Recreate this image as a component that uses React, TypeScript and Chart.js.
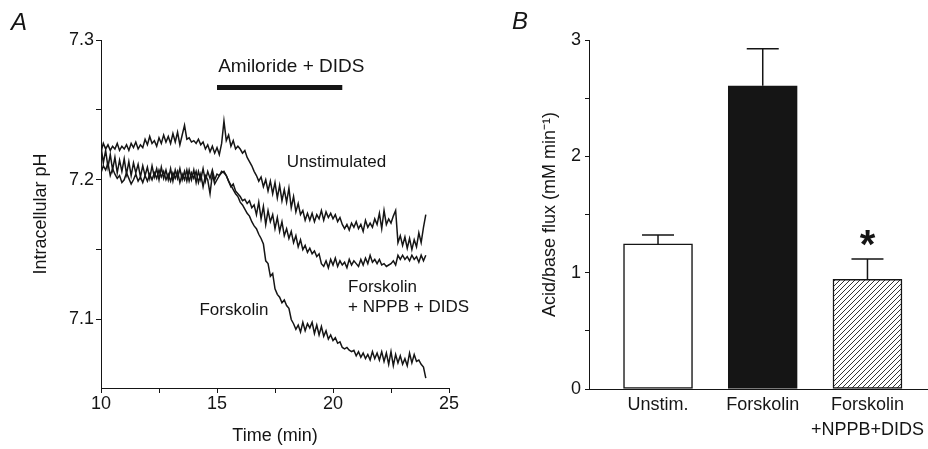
import React, { useEffect, useRef } from "react";
import { Chart, registerables } from "chart.js";

Chart.register(...registerables);

const FONT = "'Liberation Sans', Arial, Helvetica, sans-serif";
const INK = "#151515";

// ---------- Panel A: intracellular pH traces ----------
const TIME_START = 10; // min
const TIME_STEP = 0.1; // min between samples

const PH_UNSTIM = [
  7.220, 7.226, 7.222, 7.225, 7.221, 7.224, 7.222, 7.226, 7.221, 7.224,
  7.222, 7.225, 7.221, 7.226, 7.223, 7.227, 7.222, 7.225, 7.223, 7.229,
  7.225, 7.231, 7.226, 7.228, 7.224, 7.230, 7.226, 7.232, 7.227, 7.231,
  7.226, 7.233, 7.227, 7.234, 7.225, 7.232, 7.239, 7.229, 7.230, 7.227,
  7.228, 7.226, 7.229, 7.225, 7.227, 7.222, 7.225, 7.220, 7.224, 7.219,
  7.223, 7.218, 7.226, 7.242, 7.228, 7.232, 7.224, 7.228, 7.222, 7.224,
  7.222, 7.219, 7.221, 7.216, 7.213, 7.210, 7.206, 7.203, 7.199, 7.202,
  7.195, 7.200, 7.192, 7.199, 7.190, 7.198, 7.187, 7.196, 7.185, 7.193,
  7.184, 7.194, 7.180, 7.188, 7.177, 7.183, 7.175, 7.178, 7.171, 7.176,
  7.171, 7.176, 7.170, 7.175, 7.172, 7.178, 7.171, 7.177, 7.173, 7.176,
  7.172, 7.175, 7.170, 7.173, 7.168, 7.165, 7.168, 7.164, 7.169, 7.166,
  7.170, 7.165, 7.168, 7.163, 7.171, 7.166, 7.169, 7.166, 7.172, 7.168,
  7.176, 7.165, 7.178, 7.168, 7.172, 7.169, 7.174, 7.178, 7.155, 7.160,
  7.153, 7.159, 7.151, 7.158, 7.150, 7.157, 7.152, 7.162, 7.155, 7.166,
  7.175,
];

const PH_FORSK_NPPB_DIDS = [
  7.224, 7.212, 7.221, 7.209, 7.218, 7.207, 7.216, 7.205, 7.214, 7.206,
  7.215, 7.204, 7.213, 7.203, 7.212, 7.205, 7.211, 7.202, 7.210, 7.203,
  7.209, 7.201, 7.210, 7.202, 7.208, 7.200, 7.209, 7.201, 7.207, 7.200,
  7.208, 7.199, 7.207, 7.201, 7.208, 7.200, 7.206, 7.199, 7.207, 7.200,
  7.207, 7.198, 7.206, 7.200, 7.208, 7.199, 7.206, 7.201, 7.207, 7.200,
  7.204, 7.203, 7.206, 7.205, 7.203, 7.199, 7.195, 7.197, 7.192, 7.190,
  7.188, 7.185, 7.186, 7.183, 7.185, 7.180, 7.182, 7.175, 7.184, 7.172,
  7.181, 7.168, 7.178, 7.170, 7.175, 7.165, 7.173, 7.163, 7.170, 7.160,
  7.165, 7.158, 7.163, 7.155, 7.160, 7.152, 7.157, 7.150, 7.153, 7.148,
  7.151, 7.147, 7.149, 7.145, 7.147, 7.140, 7.138, 7.142, 7.137, 7.143,
  7.139, 7.144, 7.138, 7.142, 7.139, 7.141, 7.137, 7.143, 7.139, 7.142,
  7.140, 7.138, 7.143, 7.139, 7.144, 7.140, 7.146, 7.141, 7.143, 7.140,
  7.143, 7.139, 7.140, 7.138, 7.139, 7.140, 7.142, 7.139, 7.146, 7.143,
  7.146, 7.143, 7.145, 7.142, 7.146, 7.143, 7.145, 7.141, 7.146, 7.142,
  7.146,
];

const PH_FORSK = [
  7.205, 7.210, 7.207, 7.212, 7.203, 7.208, 7.204, 7.201, 7.203, 7.198,
  7.200, 7.205, 7.201, 7.197, 7.200, 7.204, 7.199, 7.202, 7.198, 7.203,
  7.199, 7.204, 7.200, 7.205, 7.201, 7.207, 7.202, 7.206, 7.200, 7.204,
  7.199, 7.205, 7.201, 7.206, 7.198, 7.204, 7.200, 7.207, 7.199, 7.205,
  7.201, 7.206, 7.198, 7.204, 7.195, 7.203, 7.200, 7.190, 7.204, 7.197,
  7.200, 7.203, 7.205, 7.206, 7.203, 7.199, 7.196, 7.193, 7.190, 7.188,
  7.184, 7.182, 7.179, 7.176, 7.174, 7.170, 7.167, 7.165, 7.161, 7.158,
  7.154, 7.142, 7.140, 7.131, 7.133, 7.122, 7.118, 7.116, 7.112, 7.114,
  7.110, 7.108, 7.100, 7.097, 7.093, 7.096, 7.091, 7.098, 7.092, 7.097,
  7.094, 7.098, 7.090, 7.096, 7.089, 7.095, 7.088, 7.092, 7.086, 7.089,
  7.085, 7.087, 7.083, 7.084, 7.080, 7.079, 7.080, 7.078, 7.077, 7.078,
  7.074, 7.077, 7.073, 7.076, 7.072, 7.075, 7.071, 7.077, 7.072, 7.076,
  7.071, 7.077, 7.070, 7.076, 7.068, 7.077, 7.067, 7.075, 7.069, 7.074,
  7.068, 7.072, 7.067, 7.076, 7.069, 7.075, 7.070, 7.071, 7.068, 7.066,
  7.058,
];

const A_X_TICKS = [10, 12.5, 15, 17.5, 20, 22.5, 25];
const A_X_LABELED = [10, 15, 20, 25];
const A_Y_TICKS = [7.1, 7.15, 7.2, 7.25, 7.3];
const A_Y_LABELED = [7.1, 7.2, 7.3];
const DRUG_PERIOD = [15, 20.4];
const DRUG_LABEL = "Amiloride + DIDS";

// ---------- Panel B: acid/base flux ----------
const B_CATEGORIES = [["Unstim."], ["Forskolin"], ["Forskolin", "+NPPB+DIDS"]];
const B_FLUX = [1.247, 2.607, 0.943];
const B_SEM = [0.077, 0.318, 0.174];
const B_SIGNIFICANT = [false, false, true];
const B_Y_TICKS = [0, 0.5, 1, 1.5, 2, 2.5, 3];
const B_Y_LABELED = [0, 1, 2, 3];

// text annotations for panel A (in data coordinates)
const A_NOTES = [
  { text: "Unstimulated", t: 20.15, ph: 7.2122, align: "center" },
  { text: "Forskolin", t: 15.73, ph: 7.1068, align: "center" },
  { text: "Forskolin", t: 20.65, ph: 7.1233, align: "left" },
  { text: "+ NPPB + DIDS", t: 20.65, ph: 7.109, align: "left" },
];

const near = (v: number, list: number[]) => list.some((l) => Math.abs(l - v) < 1e-6);

function makeHatch(): CanvasPattern | string {
  const c = document.createElement("canvas");
  c.width = 5;
  c.height = 5;
  const g = c.getContext("2d");
  if (!g) return "#888";
  g.fillStyle = "#ffffff";
  g.fillRect(0, 0, 5, 5);
  g.strokeStyle = "#333";
  g.lineWidth = 1;
  g.beginPath();
  g.moveTo(0, 5);
  g.lineTo(5, 0);
  g.moveTo(-1, 1);
  g.lineTo(1, -1);
  g.moveTo(4, 6);
  g.lineTo(6, 4);
  g.stroke();
  return g.createPattern(c, "repeat") || "#888";
}

const tickFont = { family: FONT, size: 18 };

export default function App() {
  const aRef = useRef<HTMLCanvasElement | null>(null);
  const bRef = useRef<HTMLCanvasElement | null>(null);

  useEffect(() => {
    if (!aRef.current || !bRef.current) return;

    const annotA = {
      id: "annotA",
      afterDraw(chart: any) {
        const { ctx } = chart;
        const xs = chart.scales.x;
        const ys = chart.scales.y;
        ctx.save();
        ctx.fillStyle = INK;
        ctx.font = `italic 24px ${FONT}`;
        ctx.textAlign = "left";
        ctx.textBaseline = "alphabetic";
        ctx.fillText("A", 11, 30);
        ctx.strokeStyle = INK;
        ctx.lineWidth = 5;
        const yb = ys.getPixelForValue(7.266);
        ctx.beginPath();
        ctx.moveTo(xs.getPixelForValue(DRUG_PERIOD[0]), yb);
        ctx.lineTo(xs.getPixelForValue(DRUG_PERIOD[1]), yb);
        ctx.stroke();
        ctx.font = `19px ${FONT}`;
        ctx.textBaseline = "middle";
        ctx.fillText(DRUG_LABEL, xs.getPixelForValue(15.05), ys.getPixelForValue(7.2805));
        ctx.font = `17px ${FONT}`;
        for (const n of A_NOTES) {
          ctx.textAlign = n.align as CanvasTextAlign;
          ctx.fillText(n.text, xs.getPixelForValue(n.t), ys.getPixelForValue(n.ph));
        }
        ctx.restore();
      },
    };

    const chartA = new Chart(aRef.current, {
      type: "line",
      data: {
        datasets: [PH_UNSTIM, PH_FORSK_NPPB_DIDS, PH_FORSK].map((arr, k) => ({
          label: ["Unstimulated", "Forskolin + NPPB + DIDS", "Forskolin"][k],
          data: arr.map((v, i) => ({ x: Math.round((TIME_START + i * TIME_STEP) * 10) / 10, y: v })),
          borderColor: INK,
          borderWidth: 1.5,
          pointRadius: 0,
          tension: 0,
          fill: false,
        })),
      },
      options: {
        responsive: false,
        animation: false,
        devicePixelRatio: 1,
        layout: { padding: { left: 0, top: 40, right: 41, bottom: 0 } },
        plugins: { legend: { display: false }, tooltip: { enabled: false } },
        scales: {
          x: {
            type: "linear",
            min: 10,
            max: 25,
            afterBuildTicks: (s: any) => {
              s.ticks = A_X_TICKS.map((v) => ({ value: v }));
            },
            afterFit: (s: any) => {
              s.height = 61;
            },
            ticks: {
              callback: (v: any) => (near(Number(v), A_X_LABELED) ? String(v) : ""),
              font: tickFont,
              color: INK,
              padding: 0,
              maxRotation: 0,
              autoSkip: false,
            },
            grid: { drawOnChartArea: false, drawTicks: true, tickLength: 5, tickColor: INK, tickWidth: 1 },
            border: { color: INK, width: 1 },
            title: {
              display: true,
              text: "Time (min)",
              font: { family: FONT, size: 18 },
              color: INK,
              padding: { top: 0, bottom: 2 },
            },
          },
          y: {
            type: "linear",
            min: 7.051,
            max: 7.3,
            afterBuildTicks: (s: any) => {
              s.ticks = A_Y_TICKS.map((v) => ({ value: v }));
            },
            afterFit: (s: any) => {
              s.width = 101;
            },
            ticks: {
              callback: (v: any) => (near(Number(v), A_Y_LABELED) ? Number(v).toFixed(1) : ""),
              font: tickFont,
              color: INK,
              padding: 2,
              autoSkip: false,
            },
            grid: { drawOnChartArea: false, drawTicks: true, tickLength: 5, tickColor: INK, tickWidth: 1 },
            border: { color: INK, width: 1 },
            title: {
              display: true,
              text: "Intracellular pH",
              font: { family: FONT, size: 18 },
              color: INK,
              padding: { top: 30, bottom: 0 },
            },
          },
        },
      },
      plugins: [annotA],
    } as any);

    const errB = {
      id: "errB",
      afterDatasetsDraw(chart: any) {
        const { ctx } = chart;
        const xs = chart.scales.x;
        const ys = chart.scales.y;
        ctx.save();
        ctx.strokeStyle = INK;
        ctx.fillStyle = INK;
        ctx.lineWidth = 1.5;
        B_FLUX.forEach((v, i) => {
          const x = xs.getPixelForValue(i);
          const y0 = ys.getPixelForValue(v);
          const y1 = ys.getPixelForValue(v + B_SEM[i]);
          ctx.beginPath();
          ctx.moveTo(x, y0);
          ctx.lineTo(x, y1);
          ctx.moveTo(x - 16, y1);
          ctx.lineTo(x + 16, y1);
          ctx.stroke();
          if (B_SIGNIFICANT[i]) {
            ctx.font = `bold 40px ${FONT}`;
            ctx.textAlign = "center";
            ctx.textBaseline = "alphabetic";
            ctx.fillText("*", x, y1 - 1);
          }
        });
        ctx.font = `italic 24px ${FONT}`;
        ctx.textAlign = "left";
        ctx.textBaseline = "alphabetic";
        ctx.fillText("B", 22, 29);
        ctx.restore();
      },
    };

    const chartB = new Chart(bRef.current, {
      type: "bar",
      data: {
        datasets: [
          {
            label: "Acid/base flux",
            data: B_FLUX.map((v, i) => ({ x: i, y: v })),
            backgroundColor: ["#ffffff", INK, makeHatch()],
            borderColor: INK,
            borderWidth: 1.5,
            borderSkipped: false,
            barThickness: 69,
          },
        ],
      },
      options: {
        responsive: false,
        animation: false,
        devicePixelRatio: 1,
        layout: { padding: { left: 0, top: 40, right: 0, bottom: 0 } },
        plugins: { legend: { display: false }, tooltip: { enabled: false } },
        scales: {
          x: {
            type: "linear",
            offset: false,
            min: -0.659,
            max: 2.578,
            afterBuildTicks: (s: any) => {
              s.ticks = B_CATEGORIES.map((_, i) => ({ value: i }));
            },
            afterFit: (s: any) => {
              s.height = 60;
            },
            ticks: {
              callback: (v: any) => B_CATEGORIES[Math.round(Number(v))] || "",
              font: { family: FONT, size: 18, lineHeight: 1.4 },
              color: INK,
              padding: 3,
              maxRotation: 0,
              autoSkip: false,
            },
            grid: { display: true, offset: false, drawOnChartArea: false, drawTicks: false },
            border: { color: INK, width: 1 },
          },
          y: {
            type: "linear",
            min: 0,
            max: 3,
            afterBuildTicks: (s: any) => {
              s.ticks = B_Y_TICKS.map((v) => ({ value: v }));
            },
            afterFit: (s: any) => {
              s.width = 99;
            },
            ticks: {
              callback: (v: any) => (near(Number(v), B_Y_LABELED) ? String(Number(v)) : ""),
              font: tickFont,
              color: INK,
              padding: 4,
              autoSkip: false,
            },
            grid: { drawOnChartArea: false, drawTicks: true, tickLength: 4, tickColor: INK, tickWidth: 1 },
            border: { color: INK, width: 1 },
            title: {
              display: true,
              text: "Acid/base flux (mM min\u207B\u00B9)",
              font: { family: FONT, size: 18 },
              color: INK,
              padding: { top: 49, bottom: 0 },
            },
          },
        },
      },
      plugins: [errB],
    } as any);

    return () => {
      chartA.destroy();
      chartB.destroy();
    };
  }, []);

  return (
    <div style={{ position: "absolute", left: 0, top: 0, width: 928, height: 449, background: "#ffffff" }}>
      <canvas ref={aRef} width={490} height={449} style={{ position: "absolute", left: 0, top: 0, display: "block" }} />
      <canvas ref={bRef} width={438} height={449} style={{ position: "absolute", left: 490, top: 0, display: "block" }} />
    </div>
  );
}
